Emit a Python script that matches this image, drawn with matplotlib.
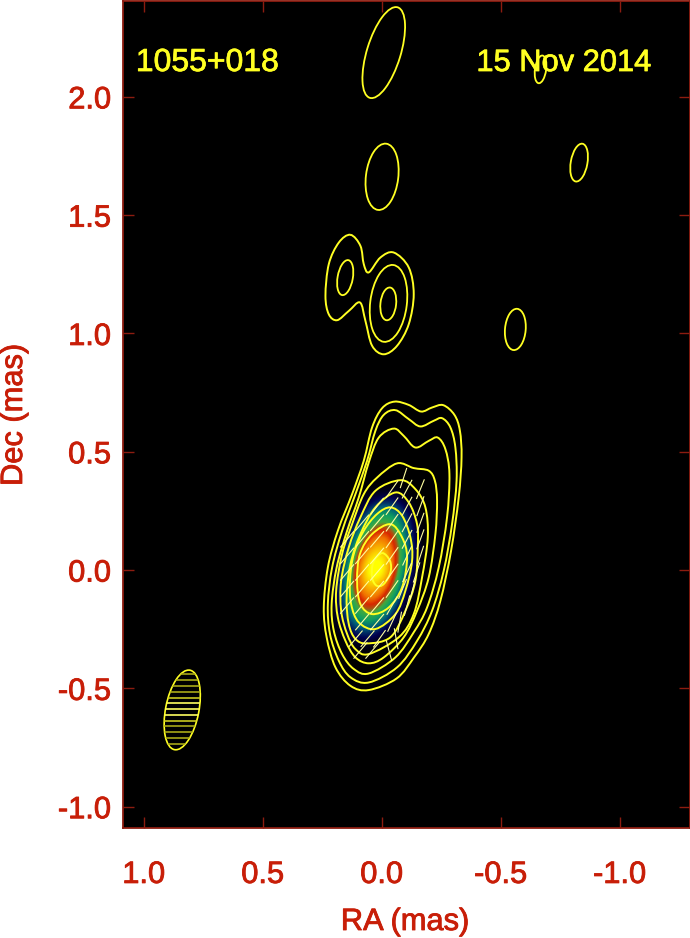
import numpy as np
import matplotlib
matplotlib.use("Agg")
import matplotlib.pyplot as plt
import matplotlib.patheffects as pe
from matplotlib.path import Path
from matplotlib.patches import PathPatch, Ellipse
from matplotlib.colors import LinearSegmentedColormap

plt.rcParams['font.family'] = ['Liberation Sans', 'DejaVu Sans']
plt.rcParams['axes.unicode_minus'] = False

source = "1055+018"
epoch = "15 Nov 2014"
xticks = [1.0, 0.5, 0.0, -0.5, -1.0]
xticklabels = ["1.0", "0.5", "0.0", "-0.5", "-1.0"]
yticks = [-1.0, -0.5, 0.0, 0.5, 1.0, 1.5, 2.0]
yticklabels = ["-1.0", "-0.5", "0.0", "0.5", "1.0", "1.5", "2.0"]

# total intensity around the core, rows dec .35 to -.35, cols ra .2 to -.2
img_ra = [0.2, 0.15, 0.1, 0.05, 0.0, -0.05, -0.1, -0.15, -0.2]
img_dec = [0.35, 0.30, 0.25, 0.20, 0.15, 0.10, 0.05, 0.0, -0.05, -0.10, -0.15, -0.20, -0.25, -0.30, -0.35]
img = [
    [0, 0, 0, 0, 0, 0, 0, 0, 0],
    [0, 0, 0, .03, .09, .08, .01, 0, 0],
    [0, 0, .01, .17, .27, .23, .08, 0, 0],
    [0, 0, .12, .33, .42, .36, .17, 0, 0],
    [0, .01, .25, .48, .58, .46, .22, 0, 0],
    [0, .08, .38, .65, .74, .53, .25, .02, 0],
    [0, .17, .48, .82, .88, .55, .24, 0, 0],
    [0, .22, .55, .97, .95, .52, .19, 0, 0],
    [0, .26, .56, .84, .74, .44, .12, 0, 0],
    [.01, .24, .51, .68, .58, .33, .04, 0, 0],
    [0, .21, .42, .52, .41, .19, 0, 0, 0],
    [0, .13, .31, .36, .27, .06, 0, 0, 0],
    [0, .04, .17, .19, .09, 0, 0, 0, 0],
    [0, 0, .04, .04, 0, 0, 0, 0, 0],
    [0, 0, 0, 0, 0, 0, 0, 0, 0],
]

# traced contours (ra, dec in mas), outermost first
c1_ra = [-.053, -.113, -.165, -.211, -.258, -.305, -.328, -.335, -.323, -.291, -.246, -.197, -.136, -.062, .055, .132, .195, .232, .244, .227, .185, .125, .076, .041, -.001]
c1_dec = [.712, .698, .670, .687, .697, .656, .589, .476, .307, .082, -.130, -.270, -.368, -.458, -.507, -.489, -.411, -.284, -.158, .011, .166, .321, .462, .603, .684]
c2_ra = [-.057, -.113, -.162, -.218, -.253, -.288, -.309, -.314, -.295, -.260, -.211, -.148, -.064, .055, .132, .181, .218, .227, .209, .167, .111, .062, .027, -.008]
c2_dec = [.676, .638, .607, .631, .642, .603, .518, .377, .194, -.003, -.172, -.299, -.411, -.475, -.453, -.383, -.270, -.144, .011, .166, .321, .462, .589, .656]
c3_ra = [-.050, -.092, -.141, -.197, -.235, -.267, -.284, -.274, -.239, -.190, -.134, -.057, .055, .118, .167, .202, .211, .190, .146, .097, .055, .013]
c3_dec = [.598, .567, .518, .546, .560, .511, .406, .223, .011, -.158, -.263, -.369, -.437, -.418, -.355, -.256, -.144, .011, .166, .307, .455, .560]
c4_ra = [-.064, -.134, -.197, -.223, -.232, -.225, -.197, -.148, -.092, -.008, .055, .111, .153, .185, .192, .167, .125, .076, .020]
c4_dec = [.451, .431, .420, .377, .293, .152, -.031, -.172, -.284, -.369, -.394, -.369, -.299, -.200, -.087, .068, .194, .321, .391]
c5_ra = [-.078, -.141, -.183, -.193, -.169, -.134, -.071, .055, .111, .146, .171, .171, .139, .090, .027]
c5_dec = [.380, .342, .265, .138, -.031, -.186, -.284, -.355, -.334, -.270, -.172, -.045, .096, .223, .335]
c6_ra = [-.057, -.113, -.148, -.151, -.141, -.099, -.036, .062, .111, .139, .148, .132, .090, .027]
c6_dec = [.328, .286, .194, .096, -.045, -.172, -.284, -.310, -.291, -.228, -.116, .025, .152, .265]
c7_ra = [-.036, -.085, -.120, -.127, -.099, -.057, .027, .097, .129, .134, .118, .076, .020]
c7_dec = [.265, .230, .138, .039, -.087, -.186, -.249, -.221, -.144, -.045, .068, .166, .237]
c8_ra = [-.036, -.085, -.106, -.085, -.029, .041, .090, .104, .092, .041]
c8_dec = [.194, .138, .054, -.073, -.158, -.186, -.144, -.045, .068, .152]
c9_ra = [-.001, -.034, -.036, -.008, .022, .041, .036]
c9_dec = [.072, .039, -.010, -.059, -.066, -.031, .032]
# two lobed contour around 1.2 mas
c10_ra = [.132, .090, .076, .055, .006, -.050, -.113, -.134, -.113, -.064, -.008, .041, .069, .092, .139, .188, .223, .237, .223, .181]
c10_dec = [1.417, 1.370, 1.293, 1.258, 1.321, 1.342, 1.279, 1.166, 1.039, .948, .912, .948, 1.053, 1.131, 1.095, 1.056, 1.081, 1.159, 1.293, 1.384]

# simple closed contours: ra, dec, major, minor, angle
blob_ra = [-.008, -.001, -.829, -.667, -.561, .154, -.027, -.028]
blob_dec = [2.187, 1.662, 1.722, 2.116, 1.017, 1.236, 1.125, 1.127]
blob_major = [.400, .282, .162, .118, .175, .150, .139, .327]
blob_minor = [.142, .136, .070, .047, .087, .064, .066, .154]
blob_angle = [107, 97, 100, 98, 95, 100, 96, 97]

# beam
beam_ra, beam_dec = 0.839, -0.591
beam_major, beam_minor, beam_angle = 0.342, 0.140, 101
beam_hatch = [-.44, -.465, -.49, -.514, -.539, -.563, -.587, -.612, -.636, -.66, -.685, -.71, -.735]
beam_hatch_col = ['#a8a818', '#a8a818', '#a8a818', '#a8a818', '#c8c820', '#ffff60', '#ffff60', '#ffff60', '#c8c820',
                  '#a8a818', '#a8a818', '#a8a818', '#a8a818']

# polarisation sticks
stick_ra = [-.091, -.162, -.106, -.043, -.162, -.106, -.043, .020, -.162, -.106, -.043, .020, .083,
            -.162, -.106, -.043, .020, .083, .146, -.162, -.106, -.043, .020, .083, .146,
            -.146, -.106, -.043, .020, .083, .146, -.130, -.087, -.043, .020, .083, .146,
            -.106, -.043, .020, .083, .146, -.075, -.043, .020, .083, -.060, .010, .060, .110, -.030, .040, .090]
stick_dec = [.389, .342, .342, .342, .270, .270, .270, .270, .200, .200, .200, .200, .200,
             .130, .130, .130, .130, .130, .130, .060, .060, .060, .060, .060, .060,
             -.010, -.010, -.010, -.010, -.010, -.010, -.080, -.080, -.080, -.080, -.080, -.080,
             -.150, -.150, -.150, -.150, -.150, -.220, -.220, -.220, -.220, -.290, -.290, -.290, -.290, -.340, -.340, -.340]
stick_ang = [72, 68, 62, 55, 70, 62, 55, 52, 70, 62, 55, 50, 50,
             70, 62, 55, 50, 50, 50, 72, 65, 55, 50, 50, 50,
             72, 65, 55, 50, 50, 50, 75, 68, 55, 50, 50, 50,
             75, 60, 50, 50, 50, 80, 65, 50, 50, 100, 55, 50, 50, 105, 50, 50]
stick_len = 0.085


def closed_path(ra, dec):
    # smooth closed curve through the traced points, with matplotlib bezier segments
    p = np.column_stack([ra, dec])
    n = len(p)
    verts = [p[0]]
    codes = [Path.MOVETO]
    for i in range(n):
        a, b, c, d = p[i - 1], p[i], p[(i + 1) % n], p[(i + 2) % n]
        verts += [b + (c - a) / 6, c - (d - b) / 6, c]
        codes += [Path.CURVE4] * 3
    return Path(verts, codes)


red = '#c81e08'
frame = '#8c1c10'
yellow = '#ffff22'
fs = 22.2

cmap = LinearSegmentedColormap.from_list('core', [
    (0, '#000000'), (.08, '#000050'), (.19, '#005a78'), (.30, '#10a060'),
    (.39, '#40a840'), (.45, '#b05010'), (.50, '#d82800'), (.58, '#f07000'), (.70, '#f8b000'), (.86, '#ffff00'), (1, '#ffff00')])

fig = plt.figure(figsize=(6.9, 9.38), dpi=100)
ax = fig.add_axes([122.5 / 690, 110 / 938, 567 / 690, 827 / 938])
ax.set_facecolor('black')

ax.imshow(img, cmap=cmap, vmin=0, vmax=1, interpolation='bicubic', aspect='auto', origin='upper',
          extent=(img_ra[0] + .025, img_ra[-1] - .025, img_dec[-1] - .025, img_dec[0] + .025))

for i in range(len(stick_ra)):
    a = np.deg2rad(stick_ang[i])
    dx = np.cos(a) * stick_len / 2
    dy = np.sin(a) * stick_len / 2
    ax.plot([stick_ra[i] + dx, stick_ra[i] - dx], [stick_dec[i] - dy, stick_dec[i] + dy],
            color='#ffffa0', lw=0.8)

contours = [(c1_ra, c1_dec), (c2_ra, c2_dec), (c3_ra, c3_dec), (c4_ra, c4_dec), (c5_ra, c5_dec),
            (c6_ra, c6_dec), (c7_ra, c7_dec), (c8_ra, c8_dec), (c9_ra, c9_dec), (c10_ra, c10_dec)]
for cra, cdec in contours:
    ax.add_patch(PathPatch(closed_path(cra, cdec), fill=False, ec=yellow, lw=1.4))

for i in range(len(blob_ra)):
    ax.add_patch(Ellipse((blob_ra[i], blob_dec[i]), blob_major[i], blob_minor[i], angle=blob_angle[i],
                         fill=False, ec=yellow, lw=1.3))

beam = Ellipse((beam_ra, beam_dec), beam_major, beam_minor, angle=beam_angle, fill=False, ec=yellow, lw=1.2)
ax.add_patch(beam)
hatch = ax.hlines(beam_hatch, beam_ra - .1, beam_ra + .1, colors=beam_hatch_col, lw=1.2)
hatch.set_clip_path(beam)

ax.set_xlim(1.09, -1.293)
ax.set_ylim(-1.09, 2.405)
ax.set_xticks(xticks, xticklabels)
ax.set_yticks(yticks, yticklabels)
ax.tick_params(axis='x', direction='in', length=8, width=1, color=frame, top=True, labelsize=fs,
               labelcolor=red, pad=23)
ax.tick_params(axis='y', direction='in', length=8, width=1, color=frame, right=True, labelsize=fs,
               labelcolor=red, pad=8)
for s in ax.spines.values():
    s.set_color(frame)
    s.set_linewidth(1.3)

bold_red = [pe.withStroke(linewidth=0.6, foreground=red)]
bold_yel = [pe.withStroke(linewidth=0.5, foreground=yellow)]
for t in ax.get_xticklabels() + ax.get_yticklabels():
    t.set_path_effects(bold_red)

ax.text(0.0235, 0.9250, source, transform=ax.transAxes, color=yellow, fontsize=fs + 0.8, va='center', ha='left',
        path_effects=bold_yel)
ax.text(0.9335, 0.9250, epoch, transform=ax.transAxes, color=yellow, fontsize=fs, va='center', ha='right',
        path_effects=bold_yel)

fig.text(405 / 690, 1 - 922 / 938, "RA (mas)", color=red, fontsize=fs, ha='center', va='center',
         path_effects=bold_red)
fig.text(14 / 690, 1 - 415 / 938, "Dec (mas)", color=red, fontsize=fs, rotation=90, ha='center', va='center',
         path_effects=bold_red)

fig.savefig('out.png', dpi=100, facecolor='white')
